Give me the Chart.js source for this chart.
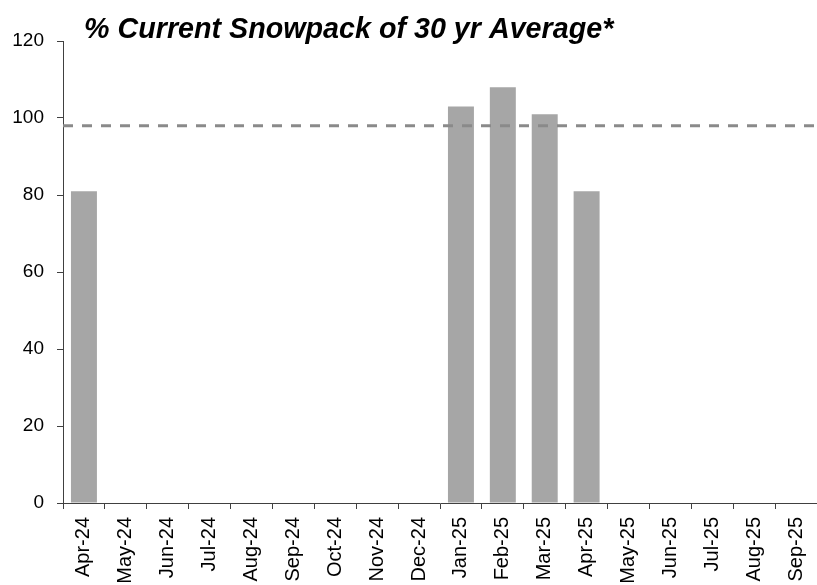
<!DOCTYPE html>
<html>
<head>
<meta charset="utf-8">
<script src="https://cdn.jsdelivr.net/npm/chart.js@4/dist/chart.umd.min.js"></script>
<style>
  html, body { margin: 0; padding: 0; background: #fff; overflow: hidden; }
  #wrap { width: 817px; height: 585px; position: relative; }
</style>
</head>
<body>
<div id="wrap"><canvas id="c" width="817" height="585"></canvas></div>
<script>
const titleText = "% Current Snowpack of 30 yr Average*";
const categories = ["Apr-24","May-24","Jun-24","Jul-24","Aug-24","Sep-24","Oct-24","Nov-24","Dec-24","Jan-25","Feb-25","Mar-25","Apr-25","May-25","Jun-25","Jul-25","Aug-25","Sep-25"];
const snowpackPct = [81, null, null, null, null, null, null, null, null, 103, 108, 101, 81, null, null, null, null, null];
const averageLine = 98;
const yTicks = [0, 20, 40, 60, 80, 100, 120];

const refLine = {
  id: 'refLine',
  afterDatasetsDraw(chart) {
    const {ctx, chartArea, scales} = chart;
    const y = scales.y.getPixelForValue(averageLine);
    ctx.save();
    ctx.strokeStyle = '#8a8a8a';
    ctx.lineWidth = 3;
    ctx.setLineDash([10, 9]);
    ctx.beginPath();
    ctx.moveTo(chartArea.left, y);
    ctx.lineTo(chartArea.right, y);
    ctx.stroke();
    ctx.restore();
  }
};
const titlePlugin = {
  id: 'titlePlugin',
  afterDraw(chart) {
    const {ctx, chartArea} = chart;
    ctx.save();
    ctx.font = 'italic bold 28.7px "Liberation Sans", Arial, sans-serif';
    ctx.fillStyle = '#000';
    ctx.textBaseline = 'alphabetic';
    ctx.fillText(titleText, chartArea.left + 21, chartArea.top - 3);
    ctx.restore();
  }
};

new Chart(document.getElementById('c'), {
  type: 'bar',
  data: {
    labels: categories,
    datasets: [{
      data: snowpackPct,
      backgroundColor: '#a6a6a6',
      borderWidth: 0,
      categoryPercentage: 0.62,
      barPercentage: 1.0
    }]
  },
  options: {
    responsive: false,
    animation: false,
    devicePixelRatio: 1,
    layout: { padding: { left: 12, right: 0, top: 41, bottom: 0 } },
    plugins: { legend: { display: false }, title: { display: false }, tooltip: { enabled: false } },
    scales: {
      x: {
        afterFit(scale) { scale.paddingLeft = 0; scale.paddingRight = 0; scale.height = 82; },
        grid: { display: true, drawOnChartArea: false, tickLength: 6, color: '#404040', offset: true },
        border: { color: '#404040', width: 1 },
        ticks: {
          color: '#000', font: { family: '"Liberation Sans", Arial, sans-serif', size: 20 },
          maxRotation: 90, minRotation: 90, padding: 8, autoSkip: false
        }
      },
      y: {
        min: 0, max: 120,
        afterBuildTicks(axis) { axis.ticks = yTicks.map(v => ({ value: v })); },
        afterFit(scale) { scale.width = 51; scale.paddingTop = 0; scale.paddingBottom = 0; },
        grid: { display: true, drawOnChartArea: false, tickLength: 6, color: '#404040' },
        border: { color: '#404040', width: 1 },
        ticks: {
          color: '#000', font: { family: '"Liberation Sans", Arial, sans-serif', size: 19 },
          padding: 13
        }
      }
    }
  },
  plugins: [refLine, titlePlugin]
});
</script>
</body>
</html>
